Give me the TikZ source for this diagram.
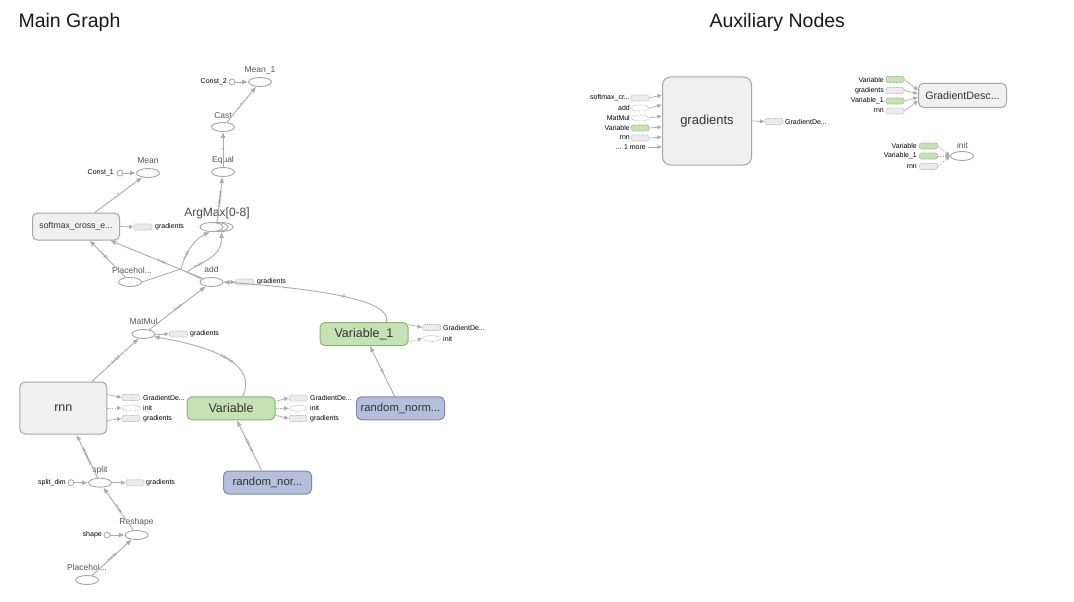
\documentclass[tikz,border=0pt]{standalone}
\usepackage{fontspec}
\setmainfont{Liberation Sans}
\usetikzlibrary{shapes.geometric,arrows.meta,calc}
\definecolor{edgec}{HTML}{ABABAB}
\definecolor{grayfill}{HTML}{F0F0F0}
\definecolor{graydraw}{HTML}{A6A6A6}
\definecolor{greenfill}{HTML}{C6E2B4}
\definecolor{greendraw}{HTML}{8DB279}
\definecolor{bluefill}{HTML}{B5BFDB}
\definecolor{bluedraw}{HTML}{7D88A8}
\definecolor{txt}{HTML}{333333}
\definecolor{ltxt}{HTML}{555555}
\definecolor{stubfill}{HTML}{EBEBEB}
\definecolor{stubdraw}{HTML}{B8B8B8}
\begin{document}
\begin{tikzpicture}[x=1pt,y=-1pt,
  op/.style={ellipse,draw=graydraw,fill=white,line width=0.9pt,minimum width=23pt,minimum height=9pt,inner sep=0pt},
  box/.style={rectangle,rounded corners=5pt,line width=1pt,minimum width=88pt,minimum height=23pt,inner sep=0pt,text=txt,font=\fontsize{12.5}{14}\selectfont},
  gbox/.style={box,draw=graydraw,fill=grayfill},
  vbox/.style={box,draw=greendraw,fill=greenfill},
  rbox/.style={box,draw=bluedraw,fill=bluefill,font=\fontsize{11.3}{13}\selectfont},
  oplbl/.style={font=\fontsize{8.5}{9}\selectfont,text=ltxt,inner sep=0pt},
  cst/.style={circle,draw=graydraw,fill=white,line width=0.8pt,minimum size=6pt,inner sep=0pt},
  stub/.style={rectangle,rounded corners=1.5pt,draw=stubdraw,fill=stubfill,dash pattern=on 1pt off 0.8pt,line width=0.6pt,minimum width=18pt,minimum height=6pt,inner sep=0pt},
  gstub/.style={stub,fill=greenfill,draw=greendraw},
  estub/.style={ellipse,draw=stubdraw,fill=white,dash pattern=on 1pt off 0.8pt,line width=0.6pt,minimum width=18pt,minimum height=6pt,inner sep=0pt},
  stxt/.style={font=\fontsize{7}{8}\selectfont,text=black,inner sep=0pt},
  edge/.style={draw=edgec,line width=0.9pt,-{Latex[length=6pt,width=5pt]}},
  sedge/.style={draw=edgec,line width=0.7pt,-{Latex[length=4.5pt,width=4.5pt]}},
  cedge/.style={sedge,dash pattern=on 1.2pt off 1.2pt},
  elab/.style={font=\fontsize{4}{4.5}\selectfont,text=gray,sloped,inner sep=0.5pt}
]
\path[use as bounding box,fill=white] (0,0) rectangle (1074,602);

% titles
\node[anchor=west,font=\fontsize{19.5}{22}\selectfont,text=black!90] (t1) at (15,22) {Main Graph};
\node[anchor=west,font=\fontsize{19.5}{22}\selectfont,text=black!90] (t2) at (706,22) {Auxiliary Nodes};

% ---------- main graph nodes ----------
\node[op] (mean1) at (260,82) {};
\node[oplbl] (mean1l) at (260,70) {Mean\_1};
\node[cst] (c2) at (232,82) {};
\node[stxt,anchor=east] (c2l) at (227,82) {Const\_2};

\node[op] (cast) at (223,127) {};
\node[oplbl] (castl) at (223,116) {Cast};
\node[op] (equal) at (223,172) {};
\node[oplbl] (equall) at (223,160.5) {Equal};

\node[op] (mean) at (148,173) {};
\node[oplbl] (meanl) at (148,161) {Mean};
\node[cst] (c1) at (120,173) {};
\node[stxt,anchor=east] (c1l) at (114,173) {Const\_1};

\node[gbox,minimum width=87pt,minimum height=27pt,font=\fontsize{8.7}{10}\selectfont] (soft) at (76,226.5) {softmax\_cross\_e...};
\node[stub] (sgs) at (143,227) {};
\node[stxt,anchor=west] (sgst) at (155,227) {gradients};

\node[op] (am3) at (221.5,227) {};
\node[op] (am2) at (216.5,227) {};
\node[op] (am1) at (211.5,227) {};
\node[font=\fontsize{12}{13}\selectfont,text=txt!90,inner sep=0pt] (aml) at (217,213) {ArgMax[0-8]};

\node[op] (ph1) at (130,282) {};
\node[oplbl] (ph1l) at (132,270) {Placehol...};
\node[op] (add) at (211.5,282) {};
\node[oplbl] (addl) at (211.5,269) {add};
\node[stub] (ags) at (244.5,282) {};
\node[stxt,anchor=west] (agst) at (257,282) {gradients};

\node[op] (matmul) at (143.5,334) {};
\node[oplbl] (matmull) at (143.5,321.5) {MatMul};
\node[stub] (mgs) at (178.5,334) {};
\node[stxt,anchor=west] (mgst) at (190,334) {gradients};

\node[vbox] (v1) at (364,334) {Variable\_1};
\node[stub] (v1g) at (431.5,327.5) {};
\node[stxt,anchor=west] (v1gt) at (443,327.5) {GradientDe...};
\node[estub] (v1i) at (431.5,338.5) {};
\node[stxt,anchor=west] (v1it) at (443,338.5) {init};

\node[gbox,minimum width=87pt,minimum height=52pt] (rnn) at (63.3,408) {rnn};
\node[stub] (rnng) at (131,397.5) {};
\node[stxt,anchor=west] (rnngt) at (143,397.5) {GradientDe...};
\node[estub] (rnni) at (131,408) {};
\node[stxt,anchor=west] (rnnit) at (143,408) {init};
\node[stub] (rnngr) at (131,418.5) {};
\node[stxt,anchor=west] (rnngrt) at (143,418.5) {gradients};

\node[vbox] (var) at (231,408.3) {Variable};
\node[stub] (varg) at (298,398) {};
\node[stxt,anchor=west] (vargt) at (310,398) {GradientDe...};
\node[estub] (vari) at (298,408.3) {};
\node[stxt,anchor=west] (varit) at (310,408.3) {init};
\node[stub] (vargr) at (298,418.5) {};
\node[stxt,anchor=west] (vargrt) at (310,418.5) {gradients};

\node[rbox] (rn1) at (400.5,408.3) {random\_norm...};
\node[rbox] (rn2) at (267.5,482.5) {random\_nor...};

\node[op] (split) at (100,482.7) {};
\node[oplbl] (splitl) at (100,470.5) {split};
\node[cst] (sd) at (71,482.7) {};
\node[stxt,anchor=east] (sdl) at (66,482.7) {split\_dim};
\node[stub] (spgs) at (135,482.7) {};
\node[stxt,anchor=west] (spgst) at (146,482.7) {gradients};

\node[op] (reshape) at (136.7,535) {};
\node[oplbl] (reshapel) at (136.5,522.5) {Reshape};
\node[cst] (shp) at (107,535) {};
\node[stxt,anchor=east] (shpl) at (102,535) {shape};

\node[op] (ph2) at (87,580) {};
\node[oplbl] (ph2l) at (87,567.5) {Placehol...};

% ---------- main graph edges ----------
\draw[edge] (c2) -- (mean1);
\draw[edge] (cast) -- node[elab]{?} (mean1);
\draw[edge] (equal) -- node[elab]{?} (cast);
\draw[edge] (am2) -- node[elab]{2 tensors} (equal);
\draw[edge] (c1) -- (mean);
\draw[edge] (soft) -- node[elab]{?} (mean);
\draw[sedge] (soft.east) -- (sgs.west);
\draw[edge] (add) -- node[elab,pos=0.45]{?×10} (soft);
\draw[edge] (ph1) -- node[elab,pos=0.6]{?×10} (soft);
\draw[edge] (ph1.east) -- (181,269) .. controls (185,254) and (193,240) .. node[elab,pos=0.3]{?×10} (am1.250);
\draw[edge] (add.165) -- (187,272) .. controls (200,262) and (222,258) .. node[elab,pos=0.25]{?×10} (am3.south);
\draw[sedge] (add.east) -- (ags.west);
\draw[edge] (matmul) -- node[elab]{?×10} (add);
\draw[sedge] (matmul.east) -- (mgs.west);
\draw[edge] (v1.28) .. controls (392,300) and (320,289) .. node[elab]{10} (add.east);
\draw[sedge] (v1.12) -- (v1g.west);
\draw[cedge] (v1.-10) -- (v1i.west);
\draw[edge] (rnn) -- node[elab]{?×128} (matmul);
\draw[sedge] (rnn.17) -- (rnng.west);
\draw[cedge] (rnn.east) -- (rnni.west);
\draw[sedge] (rnn.-16) -- (rnngr.west);
\draw[edge] (var.46) .. controls (258,365) and (215,347) .. node[elab]{128×10} (matmul.-15);
\draw[sedge] (var.9) -- (varg.west);
\draw[cedge] (var.east) -- (vari.west);
\draw[sedge] (var.-9) -- (vargr.west);
\draw[edge] (rn1) -- node[elab]{10} (v1);
\draw[edge] (rn2) -- node[elab]{128×10} (var);
\draw[edge] (split) -- node[elab]{28 tensors} (rnn);
\draw[edge] (sd) -- (split);
\draw[sedge] (split.east) -- (spgs.west);
\draw[edge] (reshape) -- node[elab]{?×28} (split);
\draw[edge] (shp) -- (reshape);
\draw[edge] (ph2) -- node[elab]{?×784} (reshape);

% ---------- auxiliary nodes ----------
\node[gbox,rounded corners=8pt,minimum width=89pt,minimum height=88pt,font=\fontsize{13}{15}\selectfont] (grads) at (707,121) {gradients};
\node[stub] (gi1) at (640,98) {};
\node[stxt,anchor=east] (gi1l) at (630,98) {softmax\_cr...};
\node[estub] (gi2) at (640,108) {};
\node[stxt,anchor=east] (gi2l) at (630,108) {add};
\node[estub] (gi3) at (640,118) {};
\node[stxt,anchor=east] (gi3l) at (630,118) {MatMul};
\node[gstub] (gi4) at (640,128) {};
\node[stxt,anchor=east] (gi4l) at (630,128) {Variable};
\node[stub] (gi5) at (640,138) {};
\node[stxt,anchor=east] (gi5l) at (630,138) {rnn};
\node[stxt,anchor=east] (gi6l) at (646,147) {... 1 more};
\draw[sedge] (gi1.east) -- ($(grads.west)+(0,-26)$);
\draw[sedge] (gi2.east) -- ($(grads.west)+(0,-16)$);
\draw[sedge] (gi3.east) -- ($(grads.west)+(0,-5)$);
\draw[sedge] (gi4.east) -- ($(grads.west)+(0,6)$);
\draw[sedge] (gi5.east) -- ($(grads.west)+(0,16)$);
\draw[sedge] ($(gi6l.east)+(2,0)$) -- ($(grads.west)+(0,26)$);
\node[stub] (go) at (774,121.5) {};
\node[stxt,anchor=west] (got) at (785,121.5) {GradientDe...};
\draw[sedge] (grads.east) -- (go.west);

\node[gbox,minimum height=24pt,font=\fontsize{10.7}{12}\selectfont] (gd) at (962.5,95.3) {GradientDesc...};
\node[gstub] (gd1) at (895,79.5) {};
\node[stxt,anchor=east] (gd1l) at (884,79.5) {Variable};
\node[stub] (gd2) at (895,90.5) {};
\node[stxt,anchor=east] (gd2l) at (884,90.5) {gradients};
\node[gstub] (gd3) at (895,101) {};
\node[stxt,anchor=east] (gd3l) at (884,101) {Variable\_1};
\node[stub] (gd4) at (895,111) {};
\node[stxt,anchor=east] (gd4l) at (884,111) {rnn};
\draw[sedge] (gd1.east) -- ($(gd.west)+(0,-5)$);
\draw[sedge] (gd2.east) -- ($(gd.west)+(0,-1.5)$);
\draw[sedge] (gd3.east) -- ($(gd.west)+(0,2)$);
\draw[sedge] (gd4.east) -- ($(gd.west)+(0,5.5)$);

\node[op] (init) at (962,156) {};
\node[oplbl] (initl) at (962.5,145) {init};
\node[gstub] (in1) at (928.5,146) {};
\node[stxt,anchor=east] (in1l) at (917,146) {Variable};
\node[gstub] (in2) at (928.5,156) {};
\node[stxt,anchor=east] (in2l) at (917,156) {Variable\_1};
\node[stub] (in3) at (928.5,166.5) {};
\node[stxt,anchor=east] (in3l) at (917,166.5) {rnn};
\draw[cedge] (in1.east) -- (init.west);
\draw[cedge] (in2.east) -- (init.west);
\draw[cedge] (in3.east) -- (init.west);
\end{tikzpicture}
\end{document}
